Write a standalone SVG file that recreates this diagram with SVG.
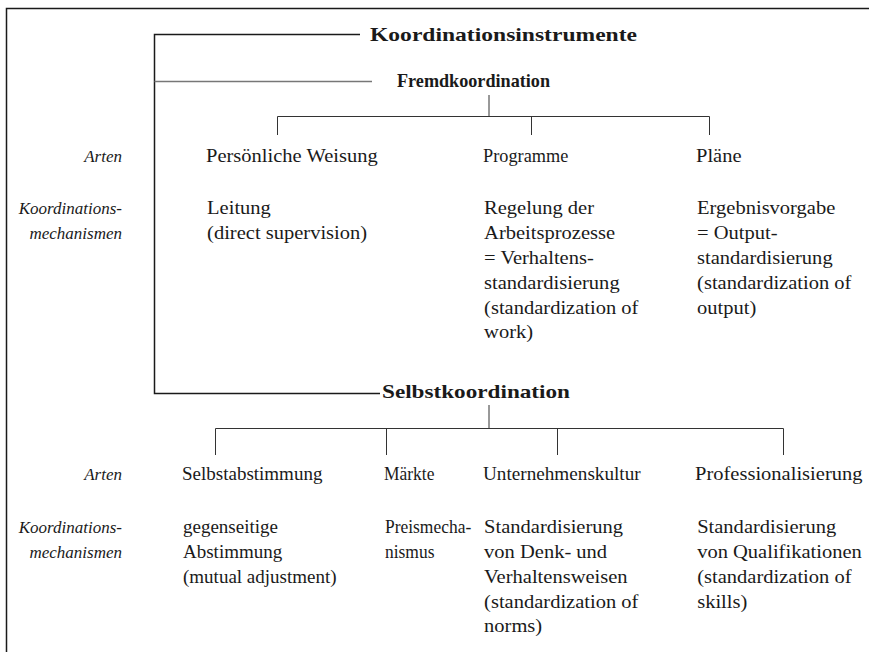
<svg xmlns="http://www.w3.org/2000/svg" width="869" height="652" viewBox="0 0 869 652">
  <style>
    text { font-family: "Liberation Serif", "DejaVu Serif", serif; fill: #1a1a1a; font-size: 19px; }
    .head { font-weight: bold; }
    .side { font-style: italic; font-size: 17px; text-anchor: end; }
    .ln { stroke: #1a1a1a; stroke-width: 1.5; fill: none; }
    .thin { stroke: #333; stroke-width: 1; fill: none; }
    .grey { stroke: #777; stroke-width: 1.5; fill: none; }
  </style>
  <rect width="869" height="652" fill="#fff"/>
  <!-- page frame (top and left edges) -->
  <path class="ln" d="M6.5,652 V8.5 H869" stroke-width="2"/>

  <g id="connectors">
    <!-- main bracket -->
    <path class="ln" d="M360,34.5 H154.5 V393.5 H380"/>
    <path class="grey" d="M154.5,81.5 H372"/>
    <!-- Fremdkoordination tree -->
    <path class="thin" d="M489,95 V116"/>
    <path class="thin" d="M277.5,135 V116.5 H709.5 V135 M531.5,116.5 V135"/>
    <!-- Selbstkoordination tree -->
    <path class="thin" d="M489,405 V428"/>
    <path class="thin" d="M215.5,455 V428.5 H783.5 V455 M386.5,428.5 V455 M557.5,428.5 V455"/>
  </g>

  <g id="koordinationsinstrumente">
    <text class="head" x="370" y="41" font-size="22" textLength="267" lengthAdjust="spacingAndGlyphs">Koordinationsinstrumente</text>
  </g>
  <g id="fremdkoordination">
    <text class="head" x="397" y="87" font-size="19" textLength="153" lengthAdjust="spacingAndGlyphs">Fremdkoordination</text>
  </g>
  <g id="selbstkoordination">
    <text class="head" x="382" y="398" font-size="19.5" textLength="188" lengthAdjust="spacingAndGlyphs">Selbstkoordination</text>
  </g>

  <g id="labels-fremd">
    <text class="side" x="122" y="162">Arten</text>
    <text class="side" x="122" y="214">Koordinations-</text>
    <text class="side" x="122" y="239">mechanismen</text>
  </g>
  <g id="labels-selbst">
    <text class="side" x="122" y="480">Arten</text>
    <text class="side" x="122" y="533">Koordinations-</text>
    <text class="side" x="122" y="558">mechanismen</text>
  </g>

  <!-- each column is drawn at x=0 and widened slightly to the book face's proportions -->
  <g id="persoenliche-weisung" transform="translate(206,0) scale(1.08,1)">
    <text x="0" y="162">Persönliche Weisung</text>
    <text x="1" y="214">Leitung</text>
    <text x="1" y="239">(direct supervision)</text>
  </g>
  <g id="programme" transform="translate(483,0) scale(1.08,1)">
    <text x="0" y="162" textLength="79" lengthAdjust="spacingAndGlyphs">Programme</text>
    <text x="1" y="214">Regelung der</text>
    <text x="1" y="239">Arbeitsprozesse</text>
    <text x="1" y="264">= Verhaltens-</text>
    <text x="1" y="289">standardisierung</text>
    <text x="1" y="314">(standardization of</text>
    <text x="1" y="338">work)</text>
  </g>
  <g id="plaene" transform="translate(696,0) scale(1.08,1)">
    <text x="0" y="162">Pläne</text>
    <text x="1" y="214">Ergebnisvorgabe</text>
    <text x="1" y="239">= Output-</text>
    <text x="1" y="264">standardisierung</text>
    <text x="1" y="289">(standardization of</text>
    <text x="1" y="314">output)</text>
  </g>

  <g id="selbstabstimmung" transform="translate(182,0)">
    <text x="0" y="480">Selbstabstimmung</text>
    <text x="1" y="533">gegenseitige</text>
    <text x="1" y="558">Abstimmung</text>
    <text x="1" y="583">(mutual adjustment)</text>
  </g>
  <g id="maerkte" transform="translate(384,0) scale(0.92,1)">
    <text x="0" y="480">Märkte</text>
    <text x="1" y="533">Preismecha-</text>
    <text x="1" y="558">nismus</text>
  </g>
  <g id="unternehmenskultur" transform="translate(483,0) scale(1.08,1)">
    <text x="0" y="480" textLength="146" lengthAdjust="spacingAndGlyphs">Unternehmenskultur</text>
    <text x="1" y="533">Standardisierung</text>
    <text x="1" y="558">von Denk- und</text>
    <text x="1" y="583">Verhaltensweisen</text>
    <text x="1" y="608">(standardization of</text>
    <text x="1" y="632">norms)</text>
  </g>
  <g id="professionalisierung" transform="translate(695,0) scale(1.08,1)">
    <text x="0" y="480">Professionalisierung</text>
    <text x="2" y="533">Standardisierung</text>
    <text x="2" y="558">von Qualifikationen</text>
    <text x="2" y="583">(standardization of</text>
    <text x="2" y="608">skills)</text>
  </g>
</svg>
